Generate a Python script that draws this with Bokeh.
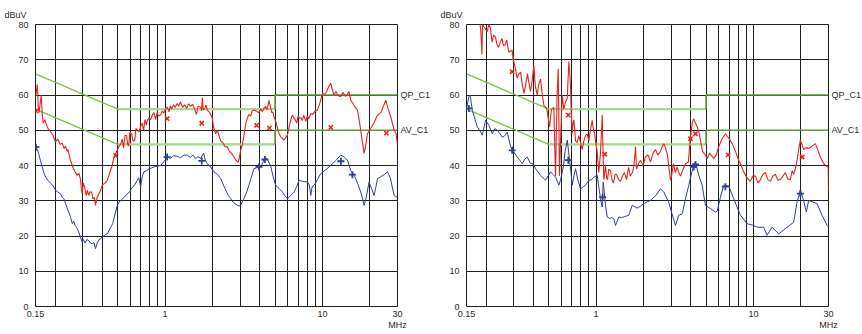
from bokeh.plotting import figure
from bokeh.models import (Range1d, FixedTicker, CustomJSTickFormatter, LinearAxis, Title)
from bokeh.layouts import row
from bokeh.embed import file_html
from bokeh.resources import INLINE

# ---------------- data ----------------
x_ticks = [0.15, 1, 10, 30]
x_grid = [0.2, 0.3, 0.4, 0.5, 0.6, 0.7, 0.8, 0.9, 1, 2, 3, 4, 5, 6, 7, 8, 9, 10, 20]
y_ticks = [0, 10, 20, 30, 40, 50, 60, 70, 80]
y_grid = [10, 20, 30, 40, 50, 60, 70]
x_unit = "MHz"
y_unit = "dBuV"
limit_names = {60: "QP_C1", 50: "AV_C1"}

qp_f = [0.15, 0.5, 5, 5, 30]
qp_v = [66, 56, 56, 60, 60]
av_f = [0.15, 0.5, 5, 5, 30]
av_v = [56, 46, 46, 50, 50]

# Left panel: red (peak) trace
l_red_f = [0.150, 0.152, 0.154, 0.156, 0.158, 0.161, 0.163, 0.166, 0.168, 0.172, 0.178, 0.183, 0.187, 0.194,
           0.201, 0.208, 0.215, 0.222, 0.228, 0.233, 0.238, 0.2415, 0.248, 0.257, 0.265, 0.276, 0.283, 0.290,
           0.294, 0.297, 0.302, 0.3075, 0.315, 0.321, 0.326, 0.333, 0.341, 0.348, 0.355, 0.361, 0.37, 0.38,
           0.389, 0.40, 0.415, 0.429, 0.445, 0.461, 0.470, 0.48, 0.4965, 0.51, 0.521, 0.533, 0.5445, 0.556,
           0.569, 0.578, 0.586, 0.598, 0.612, 0.625, 0.64, 0.652, 0.668, 0.683, 0.698, 0.715, 0.730, 0.745,
           0.76, 0.771, 0.79, 0.81, 0.829, 0.85, 0.870, 0.89, 0.91, 0.936, 0.96, 0.98, 1.00, 1.033, 1.06,
           1.08, 1.10, 1.13, 1.16, 1.196, 1.22, 1.25, 1.292, 1.33, 1.37, 1.411, 1.45, 1.50, 1.541, 1.58, 1.62,
           1.682, 1.705, 1.725, 1.745, 1.784, 1.82, 1.856, 1.92, 1.995, 2.03, 2.095, 2.15, 2.20, 2.254, 2.33,
           2.40, 2.487, 2.56, 2.64, 2.74, 2.82, 2.904, 2.96, 3.02, 3.08, 3.16, 3.22, 3.28, 3.33, 3.40, 3.50,
           3.58, 3.67, 3.78, 3.93, 4.05, 4.15, 4.25, 4.35, 4.45, 4.57, 4.65, 4.76, 4.84, 4.92, 5.05, 5.15,
           5.30, 5.45, 5.58, 5.70, 5.85, 5.99, 6.15, 6.30, 6.44, 6.60, 6.75, 6.86, 7.00, 7.15, 7.28, 7.45,
           7.60, 7.83, 8.00, 8.20, 8.43, 8.70, 9.00, 9.29, 9.60, 10.0, 10.35, 10.65, 10.95, 11.29, 11.55,
           11.85, 12.2, 12.6, 13.07, 13.5, 14.0, 14.42, 14.75, 15.14, 15.9, 16.7, 17.1, 17.52, 17.9, 18.39,
           18.8, 19.32, 20.26, 21.2, 22.39, 23.5, 24.5, 25.27, 26.2, 27.2, 28.55, 29.4, 30.0]
l_red_v = [59.5, 61, 63, 57, 55, 58, 60, 54, 52, 53, 51, 50, 49.5, 48.5,
           46.7, 47.5, 46, 46.3, 44.8, 45.5, 44, 44.5, 42, 40, 38.5, 37.2, 37.8, 36,
           33, 32, 35, 34, 31.5, 33, 31.5, 32.5, 32.5, 30.5, 31, 28.7, 31, 32,
           33, 34.5, 35, 35.8, 38, 40, 42, 43, 44.3, 45.5, 46, 47.5, 45, 48.5,
           48.5, 46, 45.5, 49.5, 49, 47, 47, 50.5, 50, 49.5, 51, 52, 50, 53,
           51.5, 52.8, 53.5, 53, 54.3, 55, 53, 55, 54, 54.4, 55.5, 54.8, 55.8, 56.6, 55.2,
           57, 56, 57.2, 56.5, 57.6, 56.8, 58, 56.5, 57.2, 56.2, 57.5, 56.8, 57.3, 56, 54.5, 56.8,
           56.6, 55.5, 59.3, 55.8, 56, 57.2, 55.7, 55, 53.5, 51, 49, 50, 48.5, 47, 46.5,
           45.3, 45.3, 44, 43.5, 42.4, 41.5, 41, 42, 44.3, 45.5, 48, 50.5, 52.5, 53.3, 54.5, 54,
           55.5, 55.7, 55.5, 55, 56, 55.3, 56.2, 56.8, 55.8, 58.5, 57, 55, 55.2, 53.8, 52.5, 51,
           49, 48, 47.6, 47.2, 48, 48.6, 51, 53, 54.3, 53.5, 52.8, 52, 54, 53.5, 53.5, 52.8,
           54.3, 52.5, 54, 53.3, 54.7, 54.5, 55.5, 55.7, 57.5, 60.4, 60.2, 61, 62.3, 63.4, 61.5,
           60, 61, 59.8, 59.5, 60.8, 59.6, 60.2, 61, 58.5, 57, 55.7, 53, 50, 47, 43.4,
           45.5, 49, 50.5, 52, 54.3, 55, 57, 58.5, 56, 53.8, 50, 49, 45.7]

# Left panel: blue (average) trace
l_blue_f = [0.150, 0.153, 0.157, 0.161, 0.165, 0.170, 0.174, 0.180, 0.187, 0.194, 0.201, 0.208, 0.216, 0.222,
            0.227, 0.233, 0.238, 0.244, 0.250, 0.257, 0.262, 0.268, 0.273, 0.280, 0.288, 0.297, 0.303, 0.31,
            0.318, 0.327, 0.335, 0.345, 0.352, 0.361, 0.37, 0.38, 0.389, 0.40, 0.415, 0.429, 0.445, 0.464,
            0.484, 0.495, 0.508, 0.53, 0.55, 0.575, 0.595, 0.612, 0.64, 0.665, 0.68, 0.699, 0.715, 0.733,
            0.76, 0.79, 0.82, 0.849, 0.89, 0.936, 0.98, 1.033, 1.08, 1.13, 1.196, 1.25, 1.32, 1.384, 1.45,
            1.50, 1.563, 1.62, 1.682, 1.757, 1.8, 1.856, 1.95, 2.044, 2.15, 2.254, 2.4, 2.52, 2.609, 2.72,
            2.878, 3.0, 3.17, 3.3, 3.41, 3.55, 3.67, 3.8, 3.95, 4.1, 4.32, 4.5, 4.69, 4.85, 5.04, 5.3, 5.56,
            5.75, 5.99, 6.3, 6.61, 6.85, 7.11, 7.5, 8.03, 8.25, 8.43, 8.6, 8.85, 9.3, 9.75, 10.5, 11.29,
            12.2, 13.07, 13.7, 14.42, 15.14, 15.9, 16.7, 17.52, 18.0, 18.39, 19.0, 19.78, 20.5, 21.3, 21.9,
            22.39, 23.5, 24.8, 25.9, 27.0, 28.55, 29.3, 30.0]
l_blue_v = [45.3, 44.8, 43.4, 41.5, 39.8, 37.8, 36.7, 35.8, 35, 34.2, 33, 32.5, 32, 31,
            30.6, 29.2, 28, 26.8, 25.5, 23.5, 24.2, 23, 22.5, 21.5, 20, 18.3, 19, 18,
            19, 18.7, 18, 17.8, 18.2, 16.4, 18, 19, 19.2, 19.8, 20.3, 20.6, 22, 23.5,
            26.8, 28.5, 29.6, 30.3, 31, 32, 32.5, 33.5, 34.5, 35.8, 36.5, 34, 36.8, 38.2,
            38.5, 39, 39.3, 39.6, 39.8, 40, 41, 42.4, 42, 42.8, 42.6, 42.2, 43, 42.9, 42.3,
            43, 42, 42.5, 42, 43.5, 41.5, 40.5, 39.5, 38.2, 37.5, 36.3, 33.5, 31.5, 30.6, 29.5,
            28.7, 28.5, 30.6, 32.5, 34.4, 37, 39.1, 39.3, 39.6, 40, 42.4, 41.5, 39.8, 37, 34.4, 33.5, 32.5,
            31.5, 30.6, 31.5, 32.5, 34, 35.8, 35.5, 35.3, 34.5, 31.5, 34, 34.4, 36, 37.7, 38.8, 40,
            41.5, 42.9, 42.5, 41.5, 38.6, 37.4, 35, 32.5, 30.5, 28.7, 31, 35.3, 33.5, 31.5, 34,
            36.3, 36.8, 37.5, 38.2, 36.5, 31.5, 31.2, 31]

l_qp_f = [0.151, 0.484, 1.03, 1.71, 3.82, 4.6, 11.3, 25.5]
l_qp_v = [55.5, 42.8, 53.3, 52, 51.4, 50.6, 50.8, 49.2]
l_av_f = [0.151, 1.03, 1.71, 3.95, 4.31, 13.1, 15.5]
l_av_v = [45.2, 42.4, 41.3, 39.6, 41.7, 41.2, 37.4]

# Right panel: red (peak) trace
r_red_f = [0.150, 0.17, 0.182, 0.185, 0.188, 0.1895, 0.196, 0.203, 0.208, 0.213, 0.218, 0.223, 0.229, 0.234,
           0.240, 0.246, 0.252, 0.258, 0.264, 0.270, 0.2785, 0.2925, 0.296, 0.300, 0.307, 0.315, 0.322,
           0.331, 0.339, 0.348, 0.357, 0.366, 0.374, 0.383, 0.392, 0.402, 0.411, 0.422, 0.432, 0.443,
           0.455, 0.466, 0.478, 0.489, 0.498, 0.506, 0.514, 0.521, 0.53, 0.539, 0.546, 0.552, 0.558,
           0.565, 0.574, 0.579, 0.585, 0.597, 0.609, 0.623, 0.639, 0.655, 0.671, 0.68, 0.688, 0.695,
           0.705, 0.713, 0.722, 0.731, 0.740, 0.758, 0.776, 0.796, 0.816, 0.836, 0.856, 0.878, 0.899,
           0.92, 0.944, 0.962, 0.98, 0.991, 1.015, 1.04, 1.066, 1.093, 1.105, 1.12, 1.147, 1.165, 1.181,
           1.205, 1.235, 1.26, 1.29, 1.32, 1.348, 1.39, 1.429, 1.47, 1.514, 1.56, 1.607, 1.65, 1.703,
           1.74, 1.78, 1.806, 1.86, 1.914, 1.99, 2.06, 2.14, 2.216, 2.3, 2.384, 2.47, 2.564, 2.63, 2.692,
           2.76, 2.84, 2.91, 2.97, 3.03, 3.10, 3.19, 3.27, 3.35, 3.44, 3.57, 3.70, 3.86, 3.92, 3.98, 4.08,
           4.17, 4.28, 4.39, 4.50, 4.60, 4.75, 4.95, 5.1, 5.25, 5.42, 5.59, 5.8, 6.01, 6.32, 6.63, 6.96,
           7.32, 7.68, 8.06, 8.36, 8.67, 9.1, 9.56, 9.9, 10.29, 10.7, 11.07, 11.5, 11.91, 12.35, 12.82,
           13.3, 13.79, 14.3, 14.83, 15.4, 15.96, 16.5, 17.17, 17.6, 18.02, 18.45, 18.93, 19.4, 19.87,
           20.35, 20.85, 21.4, 21.92, 22.5, 23.6, 24.75, 25.6, 26.6, 28.0, 29.4, 29.9, 30.0]
r_red_v = [88, 86, 81, 78, 71.5, 80, 79, 78, 80, 79, 75, 77, 76.5, 74.5,
           73.5, 75, 76, 74, 74.2, 75.6, 72.2, 72.7, 70.5, 69.4, 67.5, 64.7, 66,
           66.5, 63, 60.4, 63, 66, 63.5, 61, 64, 68.5, 62.5, 60, 63, 64.5,
           60, 57, 56.5, 55.5, 53, 51, 54, 56, 56.2, 56.5, 45, 37, 48,
           60, 67.5, 55, 37, 50, 60, 56, 58, 59, 69.5, 66, 62, 55,
           49, 52, 53, 50, 47, 46.5, 48.5, 46.5, 44.5, 47, 48.5, 49, 47,
           50, 52.8, 50, 49, 47, 44, 38, 43.5, 54.3, 45, 36, 40, 36.5, 36,
           39, 38.5, 36, 35, 37.5, 37.5, 36, 35.5, 37, 38, 36, 39.5, 37, 38,
           40, 45.3, 39, 40.5, 41.5, 40, 42.5, 43, 41, 43.5, 44.5, 43, 44, 45.3, 46.2,
           45, 43, 39, 35.8, 37.5, 40.5, 38, 39.6, 38, 37, 39, 40.5, 41, 45, 48, 52,
           53.3, 52, 51, 49.5, 47.2, 44, 42.9, 42, 43.5, 42.8, 42, 43, 45.3, 47.5, 49, 47.8,
           46.2, 44, 41.5, 40, 38.2, 36.5, 35.5, 37, 37, 35, 36, 37.5, 38, 36, 35.5,
           37, 37.5, 35.8, 36, 37, 38, 36.2, 36, 38.5, 37.5, 39, 41.5, 44.5, 47.2,
           46, 44.5, 45, 45, 44.8, 45.5, 46.2, 44.5, 42.4, 40.5, 39.6, 39.5, 33]

# Right panel: blue (average) trace
r_blue_f = [0.150, 0.1554, 0.158, 0.1633, 0.170, 0.1758, 0.182, 0.189, 0.1984, 0.2082, 0.2188, 0.227, 0.2354,
            0.245, 0.2532, 0.263, 0.2724, 0.2860, 0.300, 0.3154, 0.327, 0.3394, 0.352, 0.365, 0.3833, 0.40,
            0.412, 0.4434, 0.46, 0.4772, 0.495, 0.5134, 0.53, 0.5522, 0.5797, 0.595, 0.6209, 0.635, 0.6554,
            0.678, 0.692, 0.705, 0.722, 0.740, 0.765, 0.796, 0.83, 0.856, 0.899, 0.935, 0.967, 1.016, 1.066,
            1.093, 1.11, 1.147, 1.176, 1.22, 1.26, 1.295, 1.328, 1.394, 1.45, 1.52, 1.613, 1.696, 1.824,
            1.92, 2.01, 2.216, 2.4, 2.564, 2.692, 2.895, 3.05, 3.193, 3.35, 3.523, 3.70, 3.88, 4.05, 4.17,
            4.28, 4.49, 4.72, 4.95, 5.33, 5.73, 5.88, 6.17, 6.47, 6.96, 7.49, 8.26, 9.12, 10.0, 10.55,
            11.62, 12.21, 13.14, 14.47, 15.96, 18.02, 18.93, 19.87, 20.67, 21.69, 22.44, 25.36, 27.29,
            29.4, 30.0]
r_blue_v = [56.2, 59.5, 60, 55.7, 53, 51, 50, 48.6, 52.8, 51.4, 49, 50.5, 50,
            49, 48, 48.5, 49.5, 45.3, 43.8, 42.4, 41.5, 40.5, 41.8, 42.4, 40.5, 40.5,
            39.1, 37.2, 36.5, 35.8, 37, 38.2, 37.5, 36.7, 34.4, 36, 40, 44, 47.2,
            41.5, 38, 34.4, 37, 39.1, 36, 33.4, 34, 34.4, 35.8, 36, 36.7, 37.2, 30.6,
            28.2, 35.3, 28.7, 25.4, 25, 25.2, 24.9, 23, 25.4, 25.2, 25.5, 25.9, 28.7, 27.9,
            28.5, 29.2, 30.1, 31.5, 33.4, 32.5, 29.6, 26, 23, 25.9, 26.3, 30.6, 34.4, 38, 40,
            41, 37.2, 34.4, 28.7, 27.8, 26.8, 27, 31, 34.4, 34.2, 30.6, 25.9, 23.5, 23, 22.5,
            22.5, 20.2, 22.5, 20.6, 22.1, 23.9, 29.6, 33, 30.6, 26.8, 30.1, 29.2, 25.9,
            23, 22.6]

r_qp_f = [0.2925, 0.665, 1.136, 3.98, 4.28, 6.9, 20.4]
r_qp_v = [66.6, 54.3, 43.2, 47.6, 49, 43, 42.4]
r_av_f = [0.1554, 0.2925, 0.665, 1.10, 4.17, 4.28, 6.63, 19.87]
r_av_v = [56.2, 44.3, 41.5, 31, 39.6, 40.3, 34, 32]

# ---------------- style ----------------
RED = "#e8231f"
BLUE = "#2f3f9a"
G_SLOPE = "#7cc242"
G_MID = "#a5d98c"
G_HIGH = "#5c9c32"
GRID = "#1e1e1e"
FONT = "Liberation Sans"
TXT = "#2a2a2a"
FS = "9px"


def style_axis(ax, standoff):
    ax.axis_line_color = None
    ax.major_tick_line_color = None
    ax.minor_tick_line_color = None
    ax.major_tick_out = 0
    ax.major_tick_in = 0
    ax.major_label_text_font = FONT
    ax.major_label_text_font_size = FS
    ax.major_label_text_color = TXT
    ax.major_label_standoff = standoff


def panel(red_f, red_v, blue_f, blue_v, qf, qv, af, av, left_b, right_b):
    p = figure(x_axis_type="log", x_range=Range1d(0.15, 30), y_range=Range1d(0, 80),
               frame_width=362, frame_height=282,
               min_border_left=left_b, min_border_right=right_b,
               min_border_top=24, min_border_bottom=28,
               toolbar_location=None, output_backend="svg", title=None)
    p.background_fill_color = "white"
    p.border_fill_color = "white"
    p.outline_line_color = GRID
    p.outline_line_width = 1

    p.xgrid.ticker = FixedTicker(ticks=x_grid)
    p.ygrid.ticker = FixedTicker(ticks=y_grid)
    for g in (p.xgrid, p.ygrid):
        g.grid_line_color = GRID
        g.grid_line_width = 1

    p.xaxis.ticker = FixedTicker(ticks=x_ticks)
    p.xaxis.formatter = CustomJSTickFormatter(code="return tick.toString();")
    p.yaxis.ticker = FixedTicker(ticks=y_ticks)
    style_axis(p.xaxis[0], 4)
    style_axis(p.yaxis[0], 7)

    # unit label under the right end of the frequency axis
    unit_ax = LinearAxis(ticker=FixedTicker(ticks=[x_ticks[-1]]),
                         formatter=CustomJSTickFormatter(code="return '%s';" % x_unit))
    style_axis(unit_ax, 0)
    p.add_layout(unit_ax, "below")

    # limit names on the right side
    lim_ax = LinearAxis(ticker=FixedTicker(ticks=sorted(limit_names)),
                        major_label_overrides=dict(limit_names))
    style_axis(lim_ax, 3)
    p.add_layout(lim_ax, "right")

    # y unit above the axis
    p.add_layout(Title(text=y_unit, align="left", offset=-(left_b - 4), standoff=10,
                       text_font=FONT, text_font_size=FS, text_font_style="normal",
                       text_color=TXT), "above")

    # limit lines
    for f, v in ((qp_f, qp_v), (av_f, av_v)):
        p.line(f[0:2], v[0:2], line_color=G_SLOPE, line_width=1.2)
        p.line(f[1:3], v[1:3], line_color=G_MID, line_width=2.2)
        p.line(f[2:5], v[2:5], line_color=G_HIGH, line_width=1.6)

    p.line(blue_f, blue_v, line_color=BLUE, line_width=1)
    p.line(red_f, red_v, line_color=RED, line_width=1.1)
    p.scatter(af, av, marker="cross", size=7, line_color=BLUE, line_width=1.8)
    p.scatter(qf, qv, marker="x", size=6, line_color=RED, line_width=1.6)
    return p


p_left = panel(l_red_f, l_red_v, l_blue_f, l_blue_v, l_qp_f, l_qp_v, l_av_f, l_av_v, 35, 39)
p_right = panel(r_red_f, r_red_v, r_blue_f, r_blue_v, r_qp_f, r_qp_v, r_av_f, r_av_v, 30, 34)

layout = row(p_left, p_right)
open("out.html", "w").write(file_html(layout, INLINE))
